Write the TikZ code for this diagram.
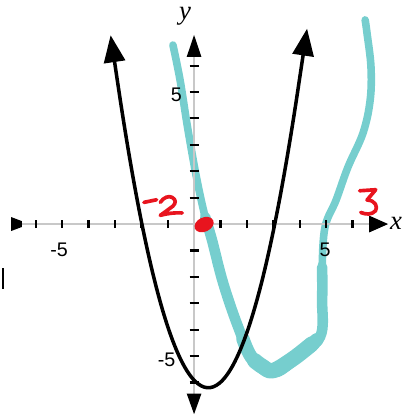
\documentclass[tikz,border=0pt]{standalone}
\usepackage{fontspec}
\setmainfont{Liberation Sans}
\newfontfamily\gfserif{Liberation Serif}
\usetikzlibrary{arrows.meta}
\definecolor{gfteal}{RGB}{118,206,206}
\definecolor{gfred}{HTML}{E8141E}
\definecolor{gfgray}{HTML}{C8C8C8}

\begin{document}
\begin{tikzpicture}[
    x=0.66cm, y=0.66cm,
    % ---- shared styles ---------------------------------------------------
    axis/.style={draw=gfgray, line width=1pt},
    tck/.style={draw=black, line width=1.5pt},
    num/.style={font=\fontsize{14}{16}\selectfont, inner sep=0pt},
    var/.style={font=\gfserif\itshape\fontsize{19}{20}\selectfont, inner sep=0pt},
    parab/.style={draw=black, line width=2.5pt, line join=round,
                  {Triangle[length=0.675cm, width=0.525cm]}-{Triangle[length=0.675cm, width=0.525cm]}},
    band/.style={draw=gfteal, line cap=round, line join=round},
    ink/.style={draw=gfred, line width=2.6pt, line cap=round, line join=round},
  ]
\useasboundingbox (-7.35,-7.27) rectangle (7.84,8.485);

% =========================================================================
% hand-drawn teal band
% =========================================================================
\draw[band, line width=5.4pt] plot[smooth, tension=0.6] coordinates {
  (-0.80,6.78) (-0.53,5.45) (-0.23,3.56) (0.11,1.67) (0.42,0.27)
  (0.68,-0.61) (1.10,-2.23) (1.67,-3.90) (2.23,-5.15) (2.99,-5.61)
  (3.75,-5.15) (4.77,-4.28) (4.85,-2.88) (4.85,-1.63) (4.96,-0.11)
  (5.38,0.91) (5.83,2.16) (6.40,3.45) (6.67,4.70) (6.70,5.95)
  (6.55,7.23) (6.48,7.73)};
\draw[band, line width=7.5pt] plot[smooth, tension=0.6] coordinates {
  (0.42,0.27) (0.68,-0.61) (1.10,-2.23) (1.67,-3.90) (2.23,-5.15)
  (2.99,-5.61) (3.75,-5.15) (4.77,-4.28) (4.85,-2.88) (4.85,-1.63)};
\draw[band, line width=9.5pt] plot[smooth, tension=0.6] coordinates {
  (1.85,-4.35) (2.23,-5.12) (2.99,-5.58) (3.75,-5.12) (4.65,-4.38)};
\draw[band, line width=11pt] plot[smooth, tension=0.6] coordinates {
  (2.30,-5.18) (2.60,-5.40) (2.99,-5.55) (3.75,-5.10) (4.45,-4.55)};

% =========================================================================
% axes and ticks
% =========================================================================
\draw[axis] (-6.52,0) -- (7.0,0);
\draw[axis] (0,-6.6) -- (0,6.8);
\fill[black] (-6.93,0.265) -- (-6.52,0.11) -- (-6.52,-0.11) -- (-6.93,-0.265) -- cycle;
\fill[black] (7.35,0) -- (6.63,0.32) -- (6.63,-0.32) -- cycle;
\fill[black] (0,7.16) -- (-0.28,6.33) -- (0.28,6.33) -- cycle;
\fill[black] (0,-7.20) -- (-0.28,-6.42) -- (0.28,-6.42) -- cycle;
\foreach \t in {-6,...,-1,1,2,...,6}{
  \draw[tck] (\t,-0.15) -- (\t,0.15);
  \draw[tck] (-0.17,\t) -- (0.17,\t);}

\node[num] (xm5) at (-5.11,-0.97) {-5};
\node[num] (xp5) at (4.96,-0.97) {5};
\node[num, anchor=east] (yp5) at (-0.45,4.90) {5};
\node[num, anchor=east] (ym5) at (-0.70,-5.15) {-5};
\node[var] (ylab) at (-0.34,7.88) {y};
\node[var] (xlab) at (7.65,0.02) {x};
\draw[black, line width=1pt] (-7.23,-1.67) -- (-7.23,-2.46);

% =========================================================================
% parabola
% =========================================================================
\draw[parab] (-3.16,7.15) -- plot[domain=-2.9:4.0, samples=60, smooth]
  (\x, {0.98*(\x-0.54)^2-6.2}) -- (4.28,7.40);

% =========================================================================
% red ink
% =========================================================================
\draw[ink] (-1.90,0.82) -- (-1.42,0.92);
\draw[ink] (-1.28,0.82) .. controls (-1.15,1.02) and (-0.95,1.08) .. (-0.83,1.01)
  .. controls (-0.68,0.92) and (-0.68,0.80) .. (-0.80,0.68)
  -- (-1.11,0.45) -- (-1.28,0.33)
  .. controls (-1.00,0.40) and (-0.75,0.44) .. (-0.45,0.42);
\draw[ink] (6.27,1.26) -- (6.88,1.30) -- (6.55,0.91)
  .. controls (6.87,0.90) and (6.97,0.65) .. (6.87,0.50)
  .. controls (6.72,0.34) and (6.50,0.36) .. (6.31,0.44);
\fill[gfred, rotate around={25:(0.38,-0.02)}] (0.38,-0.02)
  ellipse[x radius=0.38, y radius=0.27];

\end{tikzpicture}
\end{document}
